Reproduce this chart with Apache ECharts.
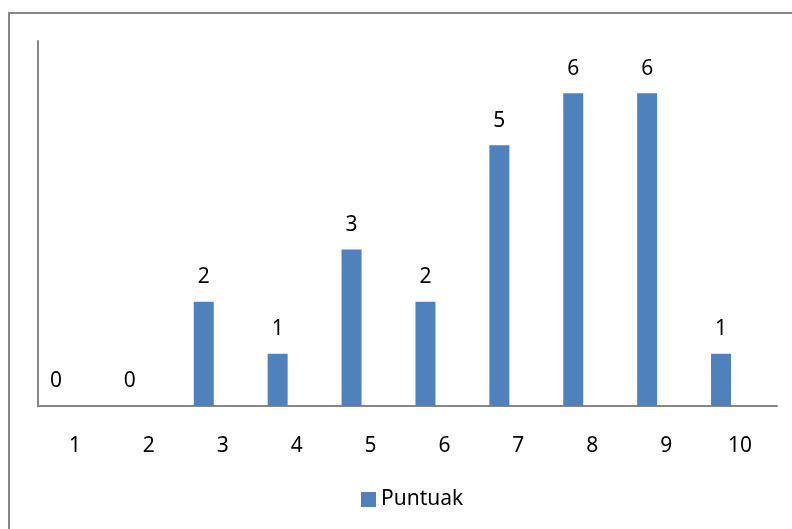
<!DOCTYPE html>
<html>
<head>
<meta charset="utf-8">
<script src="https://cdn.jsdelivr.net/npm/echarts@6/dist/echarts.min.js"></script>
<style>
  html, body { margin: 0; padding: 0; background: #fff; }
  #chart { width: 792px; height: 529px; }
</style>
</head>
<body>
<div id="chart"></div>
<script>
// data
const categories = ['1', '2', '3', '4', '5', '6', '7', '8', '9', '10']
const puntuak = [0, 0, 2, 1, 3, 2, 5, 6, 6, 1]
const seriesName = 'Puntuak'

const FONT = 'Noto Sans'
const blue = '#4F81BD'
const gray = '#868686'

const chart = echarts.init(document.getElementById('chart'))
chart.setOption({
  animation: false,
  textStyle: { fontFamily: FONT },
  graphic: [{
    type: 'rect',
    shape: { x: 9, y: 13, width: 820, height: 560 },
    style: { fill: 'none', stroke: gray, lineWidth: 2 },
    silent: true
  }],
  grid: { left: 38, right: 15, top: 41, bottom: 123 },
  legend: {
    data: [seriesName],
    left: 356, top: 484,
    icon: 'rect', itemWidth: 15, itemHeight: 15, itemGap: 8,
    textStyle: { fontFamily: FONT, fontSize: 21, color: '#000' }
  },
  xAxis: {
    type: 'category',
    data: categories,
    axisLine: { lineStyle: { color: gray, width: 2 } },
    axisTick: { show: false },
    axisLabel: { fontFamily: FONT, fontSize: 21, color: '#000', margin: 30 }
  },
  yAxis: {
    type: 'value',
    min: 0, max: 7,
    axisLine: { show: true, lineStyle: { color: gray, width: 2 } },
    axisTick: { show: false },
    axisLabel: { show: false },
    splitLine: { show: false }
  },
  series: [{
    name: seriesName,
    type: 'bar',
    data: puntuak,
    barWidth: 20,
    barGap: '90%',
    itemStyle: { color: blue },
    label: { show: true, position: 'top', distance: 14, fontFamily: FONT, fontSize: 21, color: '#000' }
  }, {
    // empty second slot, pushes the bars left like the original
    name: 'hutsik',
    type: 'bar',
    data: categories.map(() => '-'),
    barWidth: 20
  }]
})
</script>
</body>
</html>
